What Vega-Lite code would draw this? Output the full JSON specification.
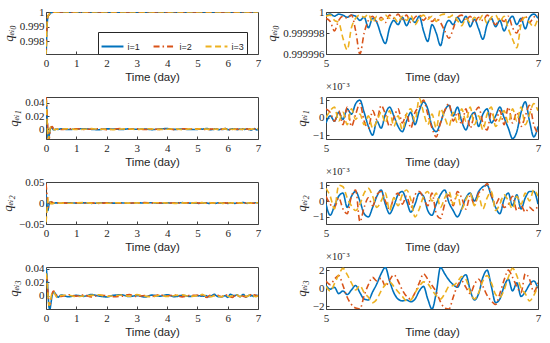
{
"$schema": "https://vega.github.io/schema/vega-lite/v6.json",
"padding": {"left": 1, "top": 5, "right": 6, "bottom": 4},
"background": "white",
"config": {
 "view": {"stroke": "#404040", "strokeWidth": 1},
 "axis": {"domain": false, "grid": false, "tickColor": "#404040", "tickSize": -3, "labelFont": "Liberation Serif, Times New Roman, serif", "labelFontSize": 11, "labelColor": "#262626", "labelFlush": false, "labelOverlap": false, "titleColor": "#262626", "titleFontWeight": "normal"},
 "axisX": {"labelPadding": 6, "titleFont": "Liberation Sans, Arial, sans-serif", "titleFontSize": 11.5, "titleFontWeight": "normal", "titlePadding": 3},
 "axisY": {"labelPadding": 5, "titleFont": "Liberation Serif, DejaVu Serif, serif", "titleFontStyle": "italic", "titleFontWeight": "normal", "titleFontSize": 13, "titlePadding": 4},
 "title": {"font": "Liberation Serif, serif", "fontSize": 10.5, "fontWeight": "normal", "color": "#262626", "anchor": "start", "frame": "group", "offset": 2},
 "line": {"interpolate": "monotone"}
},
"data": {"values": [
{"t":0,"i":"i=1","q0":0.9965,"q1":0.048,"q2":0.022,"q3":0.04},
{"t":0.02,"i":"i=1","q0":0.9982,"q1":0.035,"q2":0.01,"q3":0.036},
{"t":0.04,"i":"i=1","q0":0.9992,"q1":0.012,"q2":-0.008,"q3":0.025},
{"t":0.06,"i":"i=1","q0":0.99965,"q1":-0.008,"q2":-0.018,"q3":0.01},
{"t":0.08,"i":"i=1","q0":0.99975,"q1":-0.015,"q2":-0.012,"q3":-0.006},
{"t":0.1,"i":"i=1","q0":0.9998,"q1":-0.012,"q2":-0.004,"q3":-0.017},
{"t":0.13,"i":"i=1","q0":0.99988,"q1":-0.002,"q2":0.002,"q3":-0.02},
{"t":0.16,"i":"i=1","q0":0.99994,"q1":0.003,"q2":0.003,"q3":-0.012},
{"t":0.2,"i":"i=1","q0":0.99997,"q1":0.002,"q2":0.001,"q3":0},
{"t":0.25,"i":"i=1","q0":0.999985,"q1":-0.001,"q2":-0.0008,"q3":0.005},
{"t":0.3,"i":"i=1","q0":0.999992,"q1":-0.0005,"q2":0,"q3":0.004},
{"t":0.35,"i":"i=1","q0":0.999995,"q1":0.0003,"q2":0.0004,"q3":0},
{"t":0.4,"i":"i=1","q0":0.999996,"q1":-0.0003,"q2":-0.0003,"q3":-0.002},
{"t":0.5,"i":"i=1","q0":0.9999995,"q1":0.0004,"q2":-0.0005,"q3":0.0012},
{"t":0.75,"i":"i=1","q0":0.9999992,"q1":-0.0006,"q2":0.0006,"q3":-0.0015},
{"t":1,"i":"i=1","q0":0.9999997,"q1":0.0002,"q2":-0.0002,"q3":0.0006},
{"t":1.25,"i":"i=1","q0":0.9999994,"q1":0.0007,"q2":0.0004,"q3":-0.0008},
{"t":1.5,"i":"i=1","q0":0.9999991,"q1":-0.0003,"q2":-0.0008,"q3":0.0018},
{"t":1.75,"i":"i=1","q0":0.9999996,"q1":-0.0008,"q2":0.0003,"q3":-0.0004},
{"t":2,"i":"i=1","q0":0.9999993,"q1":0.0005,"q2":0.0007,"q3":-0.0016},
{"t":2.25,"i":"i=1","q0":0.9999997,"q1":0.0001,"q2":-0.0004,"q3":0.0009},
{"t":2.5,"i":"i=1","q0":0.9999995,"q1":-0.0005,"q2":0.0002,"q3":0.0014},
{"t":2.75,"i":"i=1","q0":0.9999992,"q1":0.0006,"q2":-0.0006,"q3":-0.0011},
{"t":3,"i":"i=1","q0":0.9999996,"q1":-0.0002,"q2":0.0005,"q3":0.0003},
{"t":3.25,"i":"i=1","q0":0.9999994,"q1":0.0003,"q2":-0.0001,"q3":-0.0018},
{"t":3.5,"i":"i=1","q0":0.9999991,"q1":-0.0007,"q2":0.0006,"q3":0.001},
{"t":3.75,"i":"i=1","q0":0.9999997,"q1":0.0004,"q2":-0.0007,"q3":-0.0005},
{"t":4,"i":"i=1","q0":0.9999993,"q1":0.0008,"q2":0.0003,"q3":0.0016},
{"t":4.25,"i":"i=1","q0":0.9999995,"q1":-0.0004,"q2":-0.0003,"q3":-0.0013},
{"t":4.5,"i":"i=1","q0":0.9999996,"q1":0.0002,"q2":0.0008,"q3":0.0007},
{"t":4.75,"i":"i=1","q0":0.9999992,"q1":-0.0006,"q2":-0.0002,"q3":-0.0009},
{"t":5,"i":"i=1","q0":0.9999997,"q1":-0.0003,"q2":-0.0002,"q3":0.0003},
{"t":5.04,"i":"i=1","q0":0.9999998,"q1":0.0001,"q2":-0.0009,"q3":-0.0001},
{"t":5.08,"i":"i=1","q0":0.9999996,"q1":-0.0002,"q2":-0.0003,"q3":0.0001},
{"t":5.12,"i":"i=1","q0":0.9999998,"q1":0.0003,"q2":0.0003,"q3":-0.0006},
{"t":5.16,"i":"i=1","q0":0.9999997,"q1":-0.0001,"q2":0.0005,"q3":-0.0003},
{"t":5.2,"i":"i=1","q0":0.9999995,"q1":0.0005,"q2":-0.0004,"q3":-0.0007},
{"t":5.24,"i":"i=1","q0":0.9999997,"q1":0.0002,"q2":0.0003,"q3":-0.0002},
{"t":5.28,"i":"i=1","q0":0.9999996,"q1":0.0008,"q2":0.0006,"q3":0.0003},
{"t":5.32,"i":"i=1","q0":0.9999992,"q1":0.001,"q2":0,"q3":-0.0005},
{"t":5.36,"i":"i=1","q0":0.9999995,"q1":0.0003,"q2":-0.0008,"q3":-0.0012},
{"t":5.4,"i":"i=1","q0":0.9999985,"q1":-0.0005,"q2":-0.001,"q3":-0.0013},
{"t":5.44,"i":"i=1","q0":0.9999994,"q1":-0.001,"q2":-0.0004,"q3":-0.0004},
{"t":5.48,"i":"i=1","q0":0.999999,"q1":-0.0002,"q2":0.0003,"q3":0.0005},
{"t":5.52,"i":"i=1","q0":0.9999978,"q1":-0.0006,"q2":0.0007,"q3":0.0016},
{"t":5.56,"i":"i=1","q0":0.999997,"q1":0.0002,"q2":-0.0002,"q3":0.0023},
{"t":5.6,"i":"i=1","q0":0.9999985,"q1":0.0006,"q2":-0.0008,"q3":0.0008},
{"t":5.64,"i":"i=1","q0":0.9999992,"q1":0.0001,"q2":-0.0003,"q3":-0.0005},
{"t":5.68,"i":"i=1","q0":0.9999988,"q1":-0.0005,"q2":0.0004,"q3":-0.0012},
{"t":5.72,"i":"i=1","q0":0.9999995,"q1":-0.0008,"q2":0.0006,"q3":-0.0014},
{"t":5.76,"i":"i=1","q0":0.9999987,"q1":-0.0002,"q2":0,"q3":-0.0013},
{"t":5.8,"i":"i=1","q0":0.9999994,"q1":0.0003,"q2":-0.0007,"q3":-0.0015},
{"t":5.84,"i":"i=1","q0":0.999999,"q1":-0.0004,"q2":-0.0002,"q3":-0.0012},
{"t":5.88,"i":"i=1","q0":0.9999996,"q1":0.0004,"q2":0.0005,"q3":-0.0003},
{"t":5.92,"i":"i=1","q0":0.9999982,"q1":0.0009,"q2":0.0003,"q3":0.0002},
{"t":5.96,"i":"i=1","q0":0.9999972,"q1":0.0005,"q2":-0.0006,"q3":-0.0012},
{"t":6,"i":"i=1","q0":0.9999988,"q1":-0.0005,"q2":-0.0009,"q3":-0.0023},
{"t":6.04,"i":"i=1","q0":0.999998,"q1":-0.0008,"q2":-0.0002,"q3":-0.0005},
{"t":6.08,"i":"i=1","q0":0.9999968,"q1":-0.0003,"q2":0.0004,"q3":0.0023},
{"t":6.12,"i":"i=1","q0":0.9999985,"q1":0.0004,"q2":0.0007,"q3":0.0016},
{"t":6.16,"i":"i=1","q0":0.9999992,"q1":0.0007,"q2":-0.0001,"q3":0.0009},
{"t":6.2,"i":"i=1","q0":0.9999988,"q1":0.0001,"q2":-0.0006,"q3":0.0004},
{"t":6.24,"i":"i=1","q0":0.9999995,"q1":0.0006,"q2":-0.001,"q3":0.0001},
{"t":6.28,"i":"i=1","q0":0.999999,"q1":-0.0002,"q2":-0.0005,"q3":0.001},
{"t":6.32,"i":"i=1","q0":0.9999996,"q1":-0.0007,"q2":0.0002,"q3":0.0015},
{"t":6.36,"i":"i=1","q0":0.9999986,"q1":0,"q2":0.0005,"q3":-0.0002},
{"t":6.4,"i":"i=1","q0":0.9999993,"q1":0.0003,"q2":0,"q3":-0.0013},
{"t":6.44,"i":"i=1","q0":0.9999984,"q1":-0.0005,"q2":0.0006,"q3":-0.0006},
{"t":6.48,"i":"i=1","q0":0.9999974,"q1":0.0002,"q2":0.0009,"q3":0.0012},
{"t":6.52,"i":"i=1","q0":0.9999988,"q1":0.0005,"q2":0.001,"q3":0.002},
{"t":6.56,"i":"i=1","q0":0.9999994,"q1":-0.0003,"q2":0.0003,"q3":0.0002},
{"t":6.6,"i":"i=1","q0":0.9999986,"q1":0.0001,"q2":-0.0004,"q3":-0.0016},
{"t":6.64,"i":"i=1","q0":0.9999992,"q1":0.0006,"q2":-0.0008,"q3":-0.0012},
{"t":6.68,"i":"i=1","q0":0.9999982,"q1":0,"q2":0.0001,"q3":0.0002},
{"t":6.72,"i":"i=1","q0":0.9999991,"q1":-0.0006,"q2":0.0005,"q3":0.001},
{"t":6.76,"i":"i=1","q0":0.9999996,"q1":-0.0012,"q2":-0.0003,"q3":-0.0003},
{"t":6.8,"i":"i=1","q0":0.9999988,"q1":-0.0008,"q2":0.0004,"q3":0.0006},
{"t":6.84,"i":"i=1","q0":0.9999994,"q1":0.0003,"q2":-0.0005,"q3":-0.0009},
{"t":6.88,"i":"i=1","q0":0.9999984,"q1":0.0009,"q2":0.0002,"q3":-0.0004},
{"t":6.92,"i":"i=1","q0":0.9999995,"q1":-0.0002,"q2":0.0006,"q3":0.0004},
{"t":6.96,"i":"i=1","q0":0.9999998,"q1":-0.0011,"q2":0.0006,"q3":0.0008},
{"t":7,"i":"i=1","q0":0.9999994,"q1":-0.0005,"q2":-0.0002,"q3":0},
{"t":0,"i":"i=2","q0":0.9968,"q1":0.05,"q2":0.046,"q3":0.03},
{"t":0.02,"i":"i=2","q0":0.9984,"q1":0.04,"q2":0.03,"q3":0.028},
{"t":0.04,"i":"i=2","q0":0.9993,"q1":0.02,"q2":0.012,"q3":0.02},
{"t":0.06,"i":"i=2","q0":0.9997,"q1":0,"q2":-0.002,"q3":0.008},
{"t":0.08,"i":"i=2","q0":0.99978,"q1":-0.012,"q2":-0.01,"q3":-0.004},
{"t":0.1,"i":"i=2","q0":0.99982,"q1":-0.016,"q2":-0.008,"q3":-0.012},
{"t":0.13,"i":"i=2","q0":0.9999,"q1":-0.006,"q2":-0.002,"q3":-0.014},
{"t":0.16,"i":"i=2","q0":0.99995,"q1":0.002,"q2":0.002,"q3":-0.006},
{"t":0.2,"i":"i=2","q0":0.99997,"q1":0.004,"q2":0.002,"q3":0.003},
{"t":0.25,"i":"i=2","q0":0.999985,"q1":0.001,"q2":0,"q3":0.007},
{"t":0.3,"i":"i=2","q0":0.999992,"q1":-0.001,"q2":-0.0008,"q3":0.005},
{"t":0.35,"i":"i=2","q0":0.999995,"q1":0,"q2":0,"q3":0.001},
{"t":0.4,"i":"i=2","q0":0.999996,"q1":0.0005,"q2":0.0004,"q3":-0.001},
{"t":0.5,"i":"i=2","q0":0.9999993,"q1":-0.0005,"q2":0.0007,"q3":-0.001},
{"t":0.75,"i":"i=2","q0":0.9999996,"q1":0.0003,"q2":-0.0003,"q3":0.0016},
{"t":1,"i":"i=2","q0":0.9999991,"q1":0.0007,"q2":0.0005,"q3":-0.0005},
{"t":1.25,"i":"i=2","q0":0.9999995,"q1":-0.0004,"q2":-0.0006,"q3":0.0013},
{"t":1.5,"i":"i=2","q0":0.9999997,"q1":0.0002,"q2":0.0002,"q3":-0.0017},
{"t":1.75,"i":"i=2","q0":0.9999992,"q1":0.0006,"q2":-0.0008,"q3":0.0008},
{"t":2,"i":"i=2","q0":0.9999994,"q1":-0.0007,"q2":0.0004,"q3":0.0004},
{"t":2.25,"i":"i=2","q0":0.999999,"q1":0.0003,"q2":0.0006,"q3":-0.0014},
{"t":2.5,"i":"i=2","q0":0.9999996,"q1":0.0008,"q2":-0.0005,"q3":-0.0006},
{"t":2.75,"i":"i=2","q0":0.9999993,"q1":-0.0002,"q2":0.0001,"q3":0.0018},
{"t":3,"i":"i=2","q0":0.9999991,"q1":0.0005,"q2":-0.0004,"q3":-0.0012},
{"t":3.25,"i":"i=2","q0":0.9999997,"q1":-0.0006,"q2":0.0008,"q3":0.0005},
{"t":3.5,"i":"i=2","q0":0.9999995,"q1":0.0001,"q2":-0.0002,"q3":-0.0009},
{"t":3.75,"i":"i=2","q0":0.9999992,"q1":-0.0003,"q2":0.0003,"q3":0.0015},
{"t":4,"i":"i=2","q0":0.9999996,"q1":0.0004,"q2":-0.0007,"q3":-0.0003},
{"t":4.25,"i":"i=2","q0":0.9999994,"q1":-0.0008,"q2":0.0005,"q3":0.0011},
{"t":4.5,"i":"i=2","q0":0.999999,"q1":0.0006,"q2":-0.0001,"q3":-0.0016},
{"t":4.75,"i":"i=2","q0":0.9999995,"q1":0.0002,"q2":0.0006,"q3":0.0006},
{"t":5,"i":"i=2","q0":0.9999994,"q1":0.0005,"q2":0.0003,"q3":0.0008},
{"t":5.04,"i":"i=2","q0":0.9999991,"q1":0.0003,"q2":-0.0002,"q3":0.0004},
{"t":5.08,"i":"i=2","q0":0.9999982,"q1":-0.0002,"q2":-0.0004,"q3":0.001},
{"t":5.12,"i":"i=2","q0":0.9999992,"q1":0.0004,"q2":0.0002,"q3":0.0014},
{"t":5.16,"i":"i=2","q0":0.9999996,"q1":-0.0004,"q2":-0.0005,"q3":0.0003},
{"t":5.2,"i":"i=2","q0":0.9999994,"q1":0.0006,"q2":-0.0008,"q3":-0.001},
{"t":5.24,"i":"i=2","q0":0.9999997,"q1":-0.0005,"q2":0.0003,"q3":-0.0018},
{"t":5.28,"i":"i=2","q0":0.9999982,"q1":0.0002,"q2":0.0007,"q3":-0.0022},
{"t":5.32,"i":"i=2","q0":0.999996,"q1":0.0008,"q2":-0.0013,"q3":-0.0023},
{"t":5.36,"i":"i=2","q0":0.999998,"q1":-0.0002,"q2":-0.0004,"q3":-0.0008},
{"t":5.4,"i":"i=2","q0":0.9999992,"q1":-0.0006,"q2":0.0002,"q3":0.0004},
{"t":5.44,"i":"i=2","q0":0.9999996,"q1":0.0004,"q2":-0.0003,"q3":0.0012},
{"t":5.48,"i":"i=2","q0":0.9999991,"q1":-0.0001,"q2":0.0004,"q3":0.0008},
{"t":5.52,"i":"i=2","q0":0.9999995,"q1":0.0007,"q2":0.0006,"q3":0.0011},
{"t":5.56,"i":"i=2","q0":0.999999,"q1":0.0002,"q2":0,"q3":0.0002},
{"t":5.6,"i":"i=2","q0":0.9999997,"q1":-0.0005,"q2":-0.0005,"q3":0.0009},
{"t":5.64,"i":"i=2","q0":0.9999994,"q1":0,"q2":0.0002,"q3":0.0015},
{"t":5.68,"i":"i=2","q0":0.9999998,"q1":0.0005,"q2":0.0005,"q3":0.0008},
{"t":5.72,"i":"i=2","q0":0.9999993,"q1":-0.0003,"q2":-0.0002,"q3":-0.0002},
{"t":5.76,"i":"i=2","q0":0.9999997,"q1":0.0002,"q2":0.0003,"q3":-0.0009},
{"t":5.8,"i":"i=2","q0":0.999999,"q1":-0.0006,"q2":-0.0004,"q3":-0.0012},
{"t":5.84,"i":"i=2","q0":0.9999995,"q1":0.0003,"q2":0.0004,"q3":-0.0005},
{"t":5.88,"i":"i=2","q0":0.9999997,"q1":0.0006,"q2":0.0006,"q3":0.0006},
{"t":5.92,"i":"i=2","q0":0.9999992,"q1":0.001,"q2":0.0002,"q3":0.0016},
{"t":5.96,"i":"i=2","q0":0.9999996,"q1":0.0002,"q2":-0.0003,"q3":0.001},
{"t":6,"i":"i=2","q0":0.9999991,"q1":-0.0006,"q2":0.0005,"q3":0.0003},
{"t":6.04,"i":"i=2","q0":0.9999994,"q1":-0.0011,"q2":-0.0008,"q3":-0.0004},
{"t":6.08,"i":"i=2","q0":0.999999,"q1":-0.0003,"q2":-0.0011,"q3":-0.0015},
{"t":6.12,"i":"i=2","q0":0.9999982,"q1":0.0004,"q2":-0.0002,"q3":-0.0022},
{"t":6.16,"i":"i=2","q0":0.9999975,"q1":0.0008,"q2":0.0004,"q3":-0.0023},
{"t":6.2,"i":"i=2","q0":0.9999984,"q1":-0.0002,"q2":-0.0003,"q3":-0.001},
{"t":6.24,"i":"i=2","q0":0.9999995,"q1":0.0003,"q2":0.0006,"q3":0.0003},
{"t":6.28,"i":"i=2","q0":0.9999997,"q1":-0.0004,"q2":0.0002,"q3":0.0008},
{"t":6.32,"i":"i=2","q0":0.9999992,"q1":0.0005,"q2":-0.0005,"q3":0.0001},
{"t":6.36,"i":"i=2","q0":0.9999996,"q1":-0.0006,"q2":0.0003,"q3":-0.0006},
{"t":6.4,"i":"i=2","q0":0.999999,"q1":0.0002,"q2":-0.0002,"q3":0.0004},
{"t":6.44,"i":"i=2","q0":0.9999995,"q1":0.0006,"q2":0.0005,"q3":0.001},
{"t":6.48,"i":"i=2","q0":0.9999992,"q1":-0.0003,"q2":0.0007,"q3":0.0002},
{"t":6.52,"i":"i=2","q0":0.9999997,"q1":-0.0007,"q2":0.0011,"q3":-0.0008},
{"t":6.56,"i":"i=2","q0":0.9999993,"q1":0.0003,"q2":0.0004,"q3":-0.0014},
{"t":6.6,"i":"i=2","q0":0.9999988,"q1":-0.0002,"q2":-0.0002,"q3":-0.0018},
{"t":6.64,"i":"i=2","q0":0.9999994,"q1":0.0004,"q2":0.0002,"q3":-0.0006},
{"t":6.68,"i":"i=2","q0":0.9999991,"q1":-0.0004,"q2":-0.0004,"q3":0.0009},
{"t":6.72,"i":"i=2","q0":0.9999996,"q1":0.0006,"q2":-0.0002,"q3":0.002},
{"t":6.76,"i":"i=2","q0":0.9999985,"q1":-0.0003,"q2":0.0003,"q3":0.0012},
{"t":6.8,"i":"i=2","q0":0.999998,"q1":0.0003,"q2":-0.0006,"q3":0.0002},
{"t":6.84,"i":"i=2","q0":0.9999992,"q1":-0.0005,"q2":-0.0003,"q3":-0.0005},
{"t":6.88,"i":"i=2","q0":0.9999996,"q1":0.0001,"q2":-0.0007,"q3":0.0016},
{"t":6.92,"i":"i=2","q0":0.999999,"q1":0.0007,"q2":-0.0004,"q3":0.001},
{"t":6.96,"i":"i=2","q0":0.9999995,"q1":-0.0004,"q2":-0.0006,"q3":-0.0004},
{"t":7,"i":"i=2","q0":0.9999997,"q1":-0.0009,"q2":-0.0003,"q3":0.0006},
{"t":0,"i":"i=3","q0":0.997,"q1":0.045,"q2":-0.046,"q3":0.033},
{"t":0.02,"i":"i=3","q0":0.9985,"q1":0.03,"q2":-0.03,"q3":0.03},
{"t":0.04,"i":"i=3","q0":0.9993,"q1":0.008,"q2":-0.01,"q3":0.018},
{"t":0.06,"i":"i=3","q0":0.9997,"q1":-0.01,"q2":0.006,"q3":0.004},
{"t":0.08,"i":"i=3","q0":0.99978,"q1":-0.016,"q2":0.012,"q3":-0.008},
{"t":0.1,"i":"i=3","q0":0.99983,"q1":-0.01,"q2":0.01,"q3":-0.014},
{"t":0.13,"i":"i=3","q0":0.9999,"q1":0,"q2":0.004,"q3":-0.012},
{"t":0.16,"i":"i=3","q0":0.99995,"q1":0.004,"q2":-0.001,"q3":-0.004},
{"t":0.2,"i":"i=3","q0":0.99997,"q1":0.003,"q2":-0.002,"q3":0.004},
{"t":0.25,"i":"i=3","q0":0.999985,"q1":0,"q2":-0.0005,"q3":0.006},
{"t":0.3,"i":"i=3","q0":0.999992,"q1":-0.001,"q2":0.0006,"q3":0.002},
{"t":0.35,"i":"i=3","q0":0.999995,"q1":0.0004,"q2":0,"q3":-0.002},
{"t":0.4,"i":"i=3","q0":0.999996,"q1":-0.0002,"q2":-0.0004,"q3":-0.003},
{"t":0.5,"i":"i=3","q0":0.9999996,"q1":0.0002,"q2":-0.0002,"q3":0.0005},
{"t":0.75,"i":"i=3","q0":0.9999994,"q1":0.0006,"q2":-0.0007,"q3":0.0009},
{"t":1,"i":"i=3","q0":0.9999995,"q1":-0.0005,"q2":0.0003,"q3":-0.0013},
{"t":1.25,"i":"i=3","q0":0.9999991,"q1":-0.0001,"q2":0.0008,"q3":-0.0003},
{"t":1.5,"i":"i=3","q0":0.9999997,"q1":0.0008,"q2":-0.0004,"q3":0.0006},
{"t":1.75,"i":"i=3","q0":0.9999993,"q1":-0.0003,"q2":0.0001,"q3":0.0015},
{"t":2,"i":"i=3","q0":0.9999995,"q1":0.0001,"q2":-0.0006,"q3":-0.001},
{"t":2.25,"i":"i=3","q0":0.9999992,"q1":-0.0007,"q2":0.0005,"q3":-0.0002},
{"t":2.5,"i":"i=3","q0":0.9999994,"q1":0.0003,"q2":0.0007,"q3":0.0012},
{"t":2.75,"i":"i=3","q0":0.9999997,"q1":0.0005,"q2":-0.0003,"q3":-0.0007},
{"t":3,"i":"i=3","q0":0.9999993,"q1":-0.0006,"q2":0.0002,"q3":0.0017},
{"t":3.25,"i":"i=3","q0":0.9999991,"q1":0.0007,"q2":-0.0005,"q3":-0.0004},
{"t":3.5,"i":"i=3","q0":0.9999996,"q1":0.0002,"q2":0.0004,"q3":-0.0015},
{"t":3.75,"i":"i=3","q0":0.9999994,"q1":-0.0004,"q2":0.0006,"q3":0.0008},
{"t":4,"i":"i=3","q0":0.9999992,"q1":-0.0002,"q2":-0.0001,"q3":-0.001},
{"t":4.25,"i":"i=3","q0":0.9999997,"q1":0.0005,"q2":-0.0008,"q3":0.0004},
{"t":4.5,"i":"i=3","q0":0.9999995,"q1":-0.0007,"q2":0.0003,"q3":0.0013},
{"t":4.75,"i":"i=3","q0":0.9999993,"q1":0.0004,"q2":-0.0004,"q3":-0.0012},
{"t":5,"i":"i=3","q0":0.9999996,"q1":0,"q2":0.0008,"q3":0.0002},
{"t":5.04,"i":"i=3","q0":0.9999997,"q1":0.0004,"q2":0.0003,"q3":-0.0003},
{"t":5.08,"i":"i=3","q0":0.9999992,"q1":0.0006,"q2":-0.0005,"q3":0.0005},
{"t":5.12,"i":"i=3","q0":0.999999,"q1":-0.0002,"q2":0.001,"q3":0.0015},
{"t":5.16,"i":"i=3","q0":0.9999975,"q1":0.0003,"q2":0.0009,"q3":0.0022},
{"t":5.2,"i":"i=3","q0":0.9999964,"q1":-0.0004,"q2":0.0002,"q3":0.0015},
{"t":5.24,"i":"i=3","q0":0.9999985,"q1":0.0005,"q2":-0.0003,"q3":0.0006},
{"t":5.28,"i":"i=3","q0":0.9999994,"q1":-0.0001,"q2":-0.0006,"q3":-0.0002},
{"t":5.32,"i":"i=3","q0":0.9999997,"q1":0.0002,"q2":-0.0002,"q3":0.0003},
{"t":5.36,"i":"i=3","q0":0.9999995,"q1":-0.0004,"q2":0.0005,"q3":-0.0005},
{"t":5.4,"i":"i=3","q0":0.9999998,"q1":0.0001,"q2":0.0008,"q3":-0.001},
{"t":5.44,"i":"i=3","q0":0.999999,"q1":-0.0006,"q2":0.0003,"q3":-0.0016},
{"t":5.48,"i":"i=3","q0":0.9999996,"q1":-0.0002,"q2":-0.0004,"q3":-0.0012},
{"t":5.52,"i":"i=3","q0":0.9999992,"q1":0.0003,"q2":0,"q3":-0.0003},
{"t":5.56,"i":"i=3","q0":0.9999997,"q1":-0.0003,"q2":0.0005,"q3":0.0004},
{"t":5.6,"i":"i=3","q0":0.9999994,"q1":0.0004,"q2":-0.0006,"q3":0.0007},
{"t":5.64,"i":"i=3","q0":0.9999995,"q1":-0.0005,"q2":0.0002,"q3":0.0002},
{"t":5.68,"i":"i=3","q0":0.999999,"q1":0.0001,"q2":-0.0003,"q3":-0.0004},
{"t":5.72,"i":"i=3","q0":0.9999996,"q1":-0.0007,"q2":0.0004,"q3":-0.0009},
{"t":5.76,"i":"i=3","q0":0.9999992,"q1":0.0002,"q2":0.0007,"q3":-0.0014},
{"t":5.8,"i":"i=3","q0":0.9999997,"q1":0.0005,"q2":0.0001,"q3":-0.0013},
{"t":5.84,"i":"i=3","q0":0.9999988,"q1":-0.0002,"q2":-0.001,"q3":-0.0005},
{"t":5.88,"i":"i=3","q0":0.9999994,"q1":0.0011,"q2":-0.0005,"q3":0.0002},
{"t":5.92,"i":"i=3","q0":0.9999997,"q1":0.0003,"q2":0.0003,"q3":0.0007},
{"t":5.96,"i":"i=3","q0":0.9999993,"q1":-0.0004,"q2":0.0006,"q3":0.0005},
{"t":6,"i":"i=3","q0":0.9999996,"q1":0.0002,"q2":0,"q3":-0.0002},
{"t":6.04,"i":"i=3","q0":0.9999991,"q1":-0.0006,"q2":0.0005,"q3":-0.0008},
{"t":6.08,"i":"i=3","q0":0.9999997,"q1":0.0005,"q2":-0.0004,"q3":-0.0012},
{"t":6.12,"i":"i=3","q0":0.9999998,"q1":0,"q2":0.0002,"q3":-0.0006},
{"t":6.16,"i":"i=3","q0":0.9999995,"q1":-0.0005,"q2":0.0006,"q3":0.0002},
{"t":6.2,"i":"i=3","q0":0.9999997,"q1":0.0003,"q2":-0.0002,"q3":0.0003},
{"t":6.24,"i":"i=3","q0":0.9999992,"q1":-0.0003,"q2":0.0004,"q3":0.0007},
{"t":6.28,"i":"i=3","q0":0.9999987,"q1":0.0005,"q2":-0.0005,"q3":0.0013},
{"t":6.32,"i":"i=3","q0":0.9999994,"q1":-0.0002,"q2":0.0001,"q3":0.001},
{"t":6.36,"i":"i=3","q0":0.999999,"q1":0.0006,"q2":0.0005,"q3":-0.0004},
{"t":6.4,"i":"i=3","q0":0.9999995,"q1":-0.0004,"q2":-0.0003,"q3":-0.0012},
{"t":6.44,"i":"i=3","q0":0.9999992,"q1":0.0001,"q2":0.0003,"q3":-0.0005},
{"t":6.48,"i":"i=3","q0":0.9999997,"q1":-0.0007,"q2":-0.0005,"q3":0.0008},
{"t":6.52,"i":"i=3","q0":0.9999989,"q1":0.0002,"q2":0.0002,"q3":0.0014},
{"t":6.56,"i":"i=3","q0":0.9999995,"q1":0.0006,"q2":0.0006,"q3":0.0006},
{"t":6.6,"i":"i=3","q0":0.9999997,"q1":-0.0005,"q2":-0.0006,"q3":-0.0007},
{"t":6.64,"i":"i=3","q0":0.9999991,"q1":-0.0001,"q2":-0.0002,"q3":-0.001},
{"t":6.68,"i":"i=3","q0":0.9999996,"q1":0.0004,"q2":0.0004,"q3":-0.0002},
{"t":6.72,"i":"i=3","q0":0.9999984,"q1":-0.0003,"q2":0,"q3":0.0012},
{"t":6.76,"i":"i=3","q0":0.9999974,"q1":0.0005,"q2":-0.0005,"q3":0.0022},
{"t":6.8,"i":"i=3","q0":0.9999966,"q1":-0.0002,"q2":0.0003,"q3":0.0014},
{"t":6.84,"i":"i=3","q0":0.9999988,"q1":0.0006,"q2":-0.0002,"q3":0},
{"t":6.88,"i":"i=3","q0":0.9999995,"q1":-0.0004,"q2":0.0005,"q3":-0.0006},
{"t":6.92,"i":"i=3","q0":0.999999,"q1":0.0002,"q2":0,"q3":-0.0014},
{"t":6.96,"i":"i=3","q0":0.9999986,"q1":0.0008,"q2":0.0007,"q3":-0.0008},
{"t":7,"i":"i=3","q0":0.9999994,"q1":0.0004,"q2":0.0003,"q3":0.0002}
]},
"columns": 2,
"spacing": {"row": 43, "column": 68},
"bounds": "flush",
"resolve": {"scale": {"x": "independent", "y": "independent", "color": "independent", "strokeDash": "independent"}, "axis": {"x": "independent", "y": "independent"}, "legend": {"color": "independent", "strokeDash": "independent"}},
"concat": [
 {"width": 212, "height": 42,
  "mark": {"type": "line", "clip": true, "strokeWidth": 1.6},
  "encoding": {
   "x": {"field": "t", "type": "quantitative", "scale": {"domain": [0, 7], "nice": false, "zero": false}, "axis": {"values": [0,1,2,3,4,5,6,7], "format": "d", "title": "Time (day)"}},
   "y": {"field": "q0", "type": "quantitative", "scale": {"domain": [0.99715, 1], "nice": false, "zero": false}, "axis": {"values": [0.998, 0.999, 1], "format": ".3~f", "title": "qₑᵢ₀"}},
   "color": {"field": "i", "type": "nominal", "scale": {"domain": ["i=1","i=2","i=3"], "range": ["#0072BD","#D95319","#EDB120"]}, "legend": {"orient": "none", "legendX": 52, "legendY": 20, "direction": "horizontal", "columns": 3, "title": null, "symbolType": "stroke", "symbolSize": 480, "symbolStrokeWidth": 2, "labelFont": "Liberation Sans, Arial, sans-serif", "labelFontSize": 9, "labelColor": "#262626", "strokeColor": "#262626", "fillColor": "white", "padding": 2.5, "columnPadding": 9, "labelOffset": 3}},
   "strokeDash": {"field": "i", "type": "nominal", "scale": {"domain": ["i=1","i=2","i=3"], "range": [[1,0],[6,3,1.5,3],[6,3.5]]}, "legend": {"orient": "none", "legendX": 52, "legendY": 20, "direction": "horizontal", "columns": 3, "title": null, "symbolType": "stroke", "symbolSize": 480, "symbolStrokeWidth": 2, "labelFont": "Liberation Sans, Arial, sans-serif", "labelFontSize": 9, "labelColor": "#262626", "strokeColor": "#262626", "fillColor": "white", "padding": 2.5, "columnPadding": 9, "labelOffset": 3}}
  }},
 {"width": 212, "height": 42,
  "transform": [{"filter": "datum.t >= 5"}],
  "mark": {"type": "line", "clip": true, "strokeWidth": 1.6},
  "encoding": {
   "x": {"field": "t", "type": "quantitative", "scale": {"domain": [5, 7], "nice": false, "zero": false}, "axis": {"values": [5,6,7], "format": "d", "title": "Time (day)"}},
   "y": {"field": "q0", "type": "quantitative", "scale": {"domain": [0.999996, 1], "nice": false, "zero": false}, "axis": {"values": [0.999996, 0.999998, 1], "format": ".6~f", "title": "qₑᵢ₀"}},
   "color": {"field": "i", "type": "nominal", "scale": {"domain": ["i=1","i=2","i=3"], "range": ["#0072BD","#D95319","#EDB120"]}, "legend": null},
   "strokeDash": {"field": "i", "type": "nominal", "scale": {"domain": ["i=1","i=2","i=3"], "range": [[1,0],[6,3,1.5,3],[6,3.5]]}, "legend": null}
  }},
 {"width": 212, "height": 42,
  "mark": {"type": "line", "clip": true, "strokeWidth": 1.6},
  "encoding": {
   "x": {"field": "t", "type": "quantitative", "scale": {"domain": [0, 7], "nice": false, "zero": false}, "axis": {"values": [0,1,2,3,4,5,6,7], "format": "d", "title": "Time (day)"}},
   "y": {"field": "q1", "type": "quantitative", "scale": {"domain": [-0.015, 0.049], "nice": false, "zero": false}, "axis": {"values": [0, 0.02, 0.04], "format": ".2~f", "title": "qₑᵢ₁"}},
   "color": {"field": "i", "type": "nominal", "scale": {"domain": ["i=1","i=2","i=3"], "range": ["#0072BD","#D95319","#EDB120"]}, "legend": null},
   "strokeDash": {"field": "i", "type": "nominal", "scale": {"domain": ["i=1","i=2","i=3"], "range": [[1,0],[6,3,1.5,3],[6,3.5]]}, "legend": null}
  }},
 {"width": 212, "height": 42,
  "title": "×10⁻³",
  "transform": [{"filter": "datum.t >= 5"}],
  "mark": {"type": "line", "clip": true, "strokeWidth": 1.6},
  "encoding": {
   "x": {"field": "t", "type": "quantitative", "scale": {"domain": [5, 7], "nice": false, "zero": false}, "axis": {"values": [5,6,7], "format": "d", "title": "Time (day)"}},
   "y": {"field": "q1", "type": "quantitative", "scale": {"domain": [-0.00122, 0.00118], "nice": false, "zero": false}, "axis": {"values": [-0.001, 0, 0.001], "labelExpr": "format(datum.value*1000, '.0f')", "title": "qₑᵢ₁"}},
   "color": {"field": "i", "type": "nominal", "scale": {"domain": ["i=1","i=2","i=3"], "range": ["#0072BD","#D95319","#EDB120"]}, "legend": null},
   "strokeDash": {"field": "i", "type": "nominal", "scale": {"domain": ["i=1","i=2","i=3"], "range": [[1,0],[6,3,1.5,3],[6,3.5]]}, "legend": null}
  }},
 {"width": 212, "height": 42,
  "mark": {"type": "line", "clip": true, "strokeWidth": 1.6},
  "encoding": {
   "x": {"field": "t", "type": "quantitative", "scale": {"domain": [0, 7], "nice": false, "zero": false}, "axis": {"values": [0,1,2,3,4,5,6,7], "format": "d", "title": "Time (day)"}},
   "y": {"field": "q2", "type": "quantitative", "scale": {"domain": [-0.05, 0.05], "nice": false, "zero": false}, "axis": {"values": [-0.05, 0, 0.05], "format": ".2~f", "title": "qₑᵢ₂"}},
   "color": {"field": "i", "type": "nominal", "scale": {"domain": ["i=1","i=2","i=3"], "range": ["#0072BD","#D95319","#EDB120"]}, "legend": null},
   "strokeDash": {"field": "i", "type": "nominal", "scale": {"domain": ["i=1","i=2","i=3"], "range": [[1,0],[6,3,1.5,3],[6,3.5]]}, "legend": null}
  }},
 {"width": 212, "height": 42,
  "title": "×10⁻³",
  "transform": [{"filter": "datum.t >= 5"}],
  "mark": {"type": "line", "clip": true, "strokeWidth": 1.6},
  "encoding": {
   "x": {"field": "t", "type": "quantitative", "scale": {"domain": [5, 7], "nice": false, "zero": false}, "axis": {"values": [5,6,7], "format": "d", "title": "Time (day)"}},
   "y": {"field": "q2", "type": "quantitative", "scale": {"domain": [-0.00145, 0.0012], "nice": false, "zero": false}, "axis": {"values": [-0.001, 0, 0.001], "labelExpr": "format(datum.value*1000, '.0f')", "title": "qₑᵢ₂"}},
   "color": {"field": "i", "type": "nominal", "scale": {"domain": ["i=1","i=2","i=3"], "range": ["#0072BD","#D95319","#EDB120"]}, "legend": null},
   "strokeDash": {"field": "i", "type": "nominal", "scale": {"domain": ["i=1","i=2","i=3"], "range": [[1,0],[6,3,1.5,3],[6,3.5]]}, "legend": null}
  }},
 {"width": 212, "height": 42,
  "mark": {"type": "line", "clip": true, "strokeWidth": 1.6},
  "encoding": {
   "x": {"field": "t", "type": "quantitative", "scale": {"domain": [0, 7], "nice": false, "zero": false}, "axis": {"values": [0,1,2,3,4,5,6,7], "format": "d", "title": "Time (day)"}},
   "y": {"field": "q3", "type": "quantitative", "scale": {"domain": [-0.0195, 0.0425], "nice": false, "zero": false}, "axis": {"values": [0, 0.02, 0.04], "format": ".2~f", "title": "qₑᵢ₃"}},
   "color": {"field": "i", "type": "nominal", "scale": {"domain": ["i=1","i=2","i=3"], "range": ["#0072BD","#D95319","#EDB120"]}, "legend": null},
   "strokeDash": {"field": "i", "type": "nominal", "scale": {"domain": ["i=1","i=2","i=3"], "range": [[1,0],[6,3,1.5,3],[6,3.5]]}, "legend": null}
  }},
 {"width": 212, "height": 42,
  "title": "×10⁻³",
  "transform": [{"filter": "datum.t >= 5"}],
  "mark": {"type": "line", "clip": true, "strokeWidth": 1.6},
  "encoding": {
   "x": {"field": "t", "type": "quantitative", "scale": {"domain": [5, 7], "nice": false, "zero": false}, "axis": {"values": [5,6,7], "format": "d", "title": "Time (day)"}},
   "y": {"field": "q3", "type": "quantitative", "scale": {"domain": [-0.0023, 0.00235], "nice": false, "zero": false}, "axis": {"values": [-0.002, 0, 0.002], "labelExpr": "format(datum.value*1000, '.0f')", "title": "qₑᵢ₃"}},
   "color": {"field": "i", "type": "nominal", "scale": {"domain": ["i=1","i=2","i=3"], "range": ["#0072BD","#D95319","#EDB120"]}, "legend": null},
   "strokeDash": {"field": "i", "type": "nominal", "scale": {"domain": ["i=1","i=2","i=3"], "range": [[1,0],[6,3,1.5,3],[6,3.5]]}, "legend": null}
  }}
]
}
